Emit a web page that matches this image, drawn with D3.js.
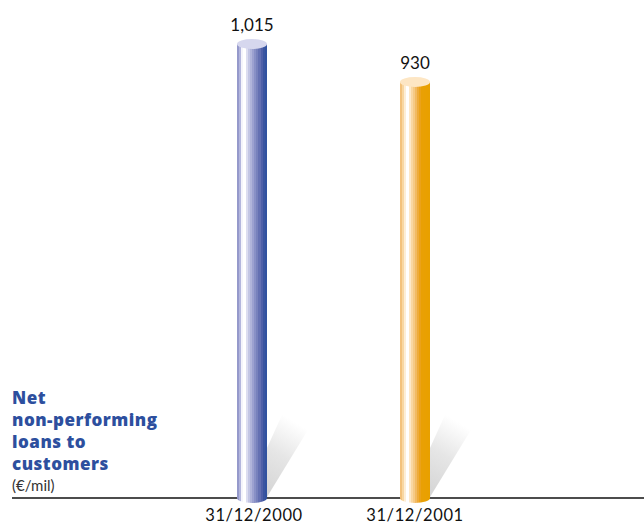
<!DOCTYPE html>
<html><head><meta charset="utf-8">
<script src="https://cdn.jsdelivr.net/npm/d3@7"></script>
<style>
html,body{margin:0;padding:0;background:#fff;}
svg{display:block;}
</style></head>
<body>
<svg id="chart" width="644" height="526"></svg>
<script>
const categories = ["31/12/2000", "31/12/2001"];
const values = [1015, 930];
const valueLabels = ["1,015", "930"];
const titleLines = ["Net", "non-performing", "loans to", "customers"];
const unitLabel = "(€/mil)";

const svg = d3.select("#chart");
const W = 644, H = 526;
const baseY = 498;
const x = d3.scalePoint().domain(categories).range([252, 415]);
const y = d3.scaleLinear().domain([0, 1100]).range([baseY, 6]);
const barW = 30, ry = 5;

const defs = svg.append("defs");
function stepGrad(id, cols) {
  const g = defs.append("linearGradient").attr("id", id).attr("x1", 0).attr("x2", 1).attr("y1", 0).attr("y2", 0);
  const n = cols.length;
  cols.forEach((c, i) => {
    g.append("stop").attr("offset", (i / n * 100) + "%").attr("stop-color", c);
    g.append("stop").attr("offset", ((i + 1) / n * 100) + "%").attr("stop-color", c);
  });
}
stepGrad("gBlue", ["#9599cb", "#b3b6dd", "#f4f4fb", "#ffffff", "#dcddf0", "#c3c6e4", "#b0b4da", "#9ca1d0", "#8890c6", "#7781bc", "#6470b2", "#4f60a8", "#3b55a0", "#3152a0"]);
stepGrad("gOrange", ["#f3c27c", "#f8d7a2", "#fdeed6", "#ffffff", "#fde8c8", "#f9d7a2", "#f6ca86", "#f1ba63", "#eeab3a", "#eba21a", "#e9a004", "#e9a002", "#e9a000", "#e8a000"]);
const sg = defs.append("linearGradient").attr("id", "gShadow").attr("x1", 0).attr("y1", 1).attr("x2", 0.35).attr("y2", 0);
sg.append("stop").attr("offset", "0%").attr("stop-color", "#d4d4d4");
sg.append("stop").attr("offset", "55%").attr("stop-color", "#e6e6e6");
sg.append("stop").attr("offset", "100%").attr("stop-color", "#ffffff");

const grads = ["url(#gBlue)", "url(#gOrange)"];
const tops = ["#d6d7ee", "#fde6c4"];

// shadows
categories.forEach((c, i) => {
  const r = x(c) + barW / 2;
  svg.append("path")
    .attr("d", `M${r},${baseY - 1} L${r},${baseY - 50} L${r + 15},${baseY - 83} L${r + 47},${baseY - 78} Z`)
    .attr("fill", "url(#gShadow)");
});

// baseline
svg.append("line").attr("x1", 12).attr("x2", W).attr("y1", baseY).attr("y2", baseY)
  .attr("stroke", "#111").attr("stroke-width", 1.3);

// cylinders
categories.forEach((c, i) => {
  const cx = x(c), l = cx - barW / 2, r = cx + barW / 2;
  const yt = y(values[i]);
  svg.append("path")
    .attr("d", `M${l},${yt} L${l},${baseY} A${barW / 2},${ry} 0 0 0 ${r},${baseY} L${r},${yt} Z`)
    .attr("fill", grads[i]);
  svg.append("ellipse").attr("cx", cx).attr("cy", yt).attr("rx", barW / 2).attr("ry", ry)
    .attr("fill", tops[i]);
  svg.append("text").attr("x", cx).attr("y", yt - 13)
    .attr("text-anchor", "middle").attr("font-family", "Lato, 'Open Sans', sans-serif")
    .attr("font-size", 17).attr("fill", "#111").text(valueLabels[i]);
  svg.append("text").attr("x", cx + (i === 0 ? 2 : 0)).attr("y", 521)
    .attr("text-anchor", "middle").attr("font-family", "Lato, 'Open Sans', sans-serif")
    .attr("font-size", 16.5).attr("letter-spacing", 0.6).attr("fill", "#111").text(c);
});

// title
titleLines.forEach((s, i) => {
  svg.append("text").attr("x", 12).attr("y", 404 + i * 22)
    .attr("font-family", "'Open Sans', sans-serif").attr("font-weight", 800)
    .attr("font-size", 17).attr("letter-spacing", 0.5).attr("fill", "#2d4f9e").text(s);
});
svg.append("text").attr("x", 12).attr("y", 491).attr("font-family", "Lato, 'Open Sans', sans-serif")
  .attr("font-size", 15).attr("fill", "#333").text(unitLabel);
</script>
</body></html>
